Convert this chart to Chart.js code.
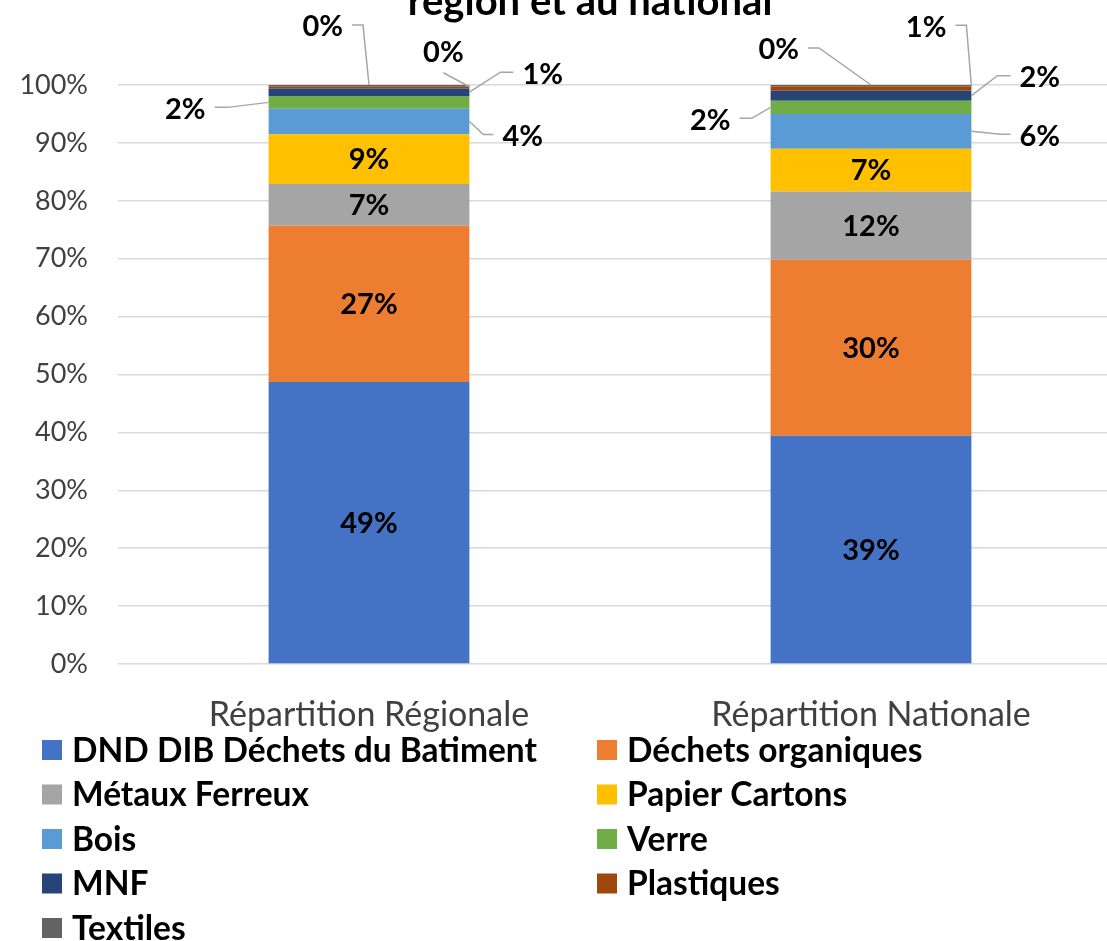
<!DOCTYPE html>
<html>
<head>
<meta charset="utf-8">
<script src="https://cdn.jsdelivr.net/npm/chart.js@4/dist/chart.umd.min.js"></script>
<style>
  html, body { margin: 0; padding: 0; background: #fff; overflow: hidden; }
  #wrap { width: 1122px; height: 941px; }
</style>
</head>
<body>
<div id="wrap"><canvas id="wasteChart"></canvas></div>
<script>
// Données (en %)
const categories = ['Répartition Régionale', 'Répartition Nationale'];
const dndDib = [48.7, 39.4];
const dechetsOrganiques = [27.0, 30.4];
const metauxFerreux = [7.2, 11.8];
const papierCartons = [8.6, 7.4];
const bois = [4.4, 6.0];
const verre = [2.2, 2.3];
const mnf = [1.3, 1.7];
const plastiques = [0.3, 0.8];
const textiles = [0.3, 0.2];
const yTicks = [0, 10, 20, 30, 40, 50, 60, 70, 80, 90, 100];

const seriesNames = ['DND DIB Déchets du Batiment', 'Déchets organiques', 'Métaux Ferreux', 'Papier Cartons',
                     'Bois', 'Verre', 'MNF', 'Plastiques', 'Textiles'];
const seriesValues = [dndDib, dechetsOrganiques, metauxFerreux, papierCartons, bois, verre, mnf, plastiques, textiles];
const seriesColors = ['#4472C4', '#ED7D31', '#A5A5A5', '#FFC000', '#5B9BD5', '#70AD47', '#264478', '#9E480E', '#636363'];

const FONT = 'Lato, "Open Sans", sans-serif';
Chart.defaults.font.family = FONT;

// étiquettes déportées (petites valeurs) : décalages par rapport au bord du segment
const callouts = {
    4: [{ edge: 'right', elbow: [14, 13], end: [24, 13] }, { edge: 'right', elbow: [29, 3], end: [39, 3] }],
    5: [{ edge: 'left', elbow: [-41, 5], end: [-54, 5] }, { edge: 'left', elbow: [-19, 11], end: [-31, 11] }],
    6: [{ edge: 'right', elbow: [31, -20], end: [44, -20] }, { edge: 'right', elbow: [26, -20], end: [39, -20] }],
    7: [{ edge: 'rightTop', elbow: [-26, -14], end: [-26, -14], above: true }, { edge: 'rightTop', elbow: [-5, -61], end: [-16, -61] }],
    8: [{ edge: 'top', elbow: [-6, -60], end: [-17, -60] }, { edge: 'top', elbow: [-52, -37], end: [-63, -37] }]
};

const pct = v => Math.round(v) + '%';

const labelsPlugin = {
    id: 'labelsPlugin',
    afterDatasetsDraw(chart) {
        const ctx = chart.ctx;
        ctx.save();
        ctx.font = 'bold 29px ' + FONT;
        ctx.fillStyle = '#000';
        chart.data.datasets.forEach((ds, i) => {
            const meta = chart.getDatasetMeta(i);
            meta.data.forEach((bar, j) => {
                const v = ds.data[j];
                const top = bar.y, base = bar.base, half = bar.width / 2;
                if (!callouts[i]) {
                    ctx.textAlign = 'center';
                    ctx.textBaseline = 'middle';
                    ctx.fillText(pct(v), bar.x, (top + base) / 2 + 1);
                    return;
                }
                const c = callouts[i][j];
                let ax, ay;
                if (c.edge === 'right') { ax = bar.x + half; ay = (top + base) / 2; }
                else if (c.edge === 'left') { ax = bar.x - half; ay = (top + base) / 2; }
                else if (c.edge === 'rightTop') { ax = bar.x + half; ay = top; }
                else { ax = bar.x; ay = top; }
                const ex = ax + c.elbow[0], ey = ay + c.elbow[1];
                const fx = ax + c.end[0], fy = ay + c.end[1];
                ctx.strokeStyle = '#A6A6A6';
                ctx.lineWidth = 1.5;
                ctx.beginPath();
                ctx.moveTo(ax, ay);
                ctx.lineTo(ex, ey);
                ctx.lineTo(fx, fy);
                ctx.stroke();
                ctx.textBaseline = 'middle';
                if (c.above) {
                    ctx.textAlign = 'center';
                    ctx.fillText(pct(v), fx, fy - 20);
                } else if (fx > ex) {
                    ctx.textAlign = 'left';
                    ctx.fillText(pct(v), fx + 9, fy + 2);
                } else {
                    ctx.textAlign = 'right';
                    ctx.fillText(pct(v), fx - 9, fy + 2);
                }
            });
        });
        ctx.restore();
    }
};

// titre (coupé en haut) et légende sur deux colonnes
const titleLegendPlugin = {
    id: 'titleLegendPlugin',
    afterDraw(chart) {
        const ctx = chart.ctx;
        ctx.save();
        ctx.fillStyle = '#000';
        ctx.font = 'bold 40px ' + FONT;
        ctx.textAlign = 'center';
        ctx.textBaseline = 'alphabetic';
        ctx.fillText('région et au national', 590, 15);

        ctx.font = 'bold 33.5px ' + FONT;
        ctx.textAlign = 'left';
        ctx.textBaseline = 'middle';
        chart.data.datasets.forEach((ds, i) => {
            const col = i % 2, row = Math.floor(i / 2);
            const x = col === 0 ? 42 : 597;
            const y = 750 + row * 44.5;
            ctx.fillStyle = ds.backgroundColor;
            ctx.fillRect(x, y - 10, 20, 20);
            ctx.fillStyle = '#000';
            ctx.fillText(ds.label, x + 30, y + 1);
        });
        ctx.restore();
    }
};

const ctx1 = document.getElementById('wasteChart').getContext('2d');
new Chart(ctx1, {
    type: 'bar',
    data: {
        labels: categories,
        datasets: seriesNames.map((name, i) => ({
            label: name,
            data: seriesValues[i],
            backgroundColor: seriesColors[i],
            borderWidth: 0,
            barPercentage: 0.4,
            categoryPercentage: 1.0
        }))
    },
    options: {
        responsive: true,
        maintainAspectRatio: false,
        animation: false,
        layout: { padding: { top: 85, right: 0, left: 0, bottom: 0 } },
        plugins: {
            legend: { display: false },
            title: { display: false },
            tooltip: { enabled: false }
        },
        scales: {
            x: {
                stacked: true,
                grid: { display: false },
                border: { display: false },
                afterFit: s => { s.height = 277; },
                ticks: { color: '#404040', padding: 23, font: { size: 34 } }
            },
            y: {
                stacked: true,
                min: 0,
                max: 100,
                afterFit: s => { s.width = 118; },
                afterBuildTicks: s => { s.ticks = yTicks.map(v => ({ value: v })); },
                grid: { color: '#D9D9D9', lineWidth: 1.5, drawTicks: false },
                border: { display: false },
                ticks: {
                    color: '#404040',
                    padding: 30,
                    font: { size: 27 },
                    callback: v => v + '%'
                }
            }
        }
    },
    plugins: [labelsPlugin, titleLegendPlugin]
});
</script>
</body>
</html>
